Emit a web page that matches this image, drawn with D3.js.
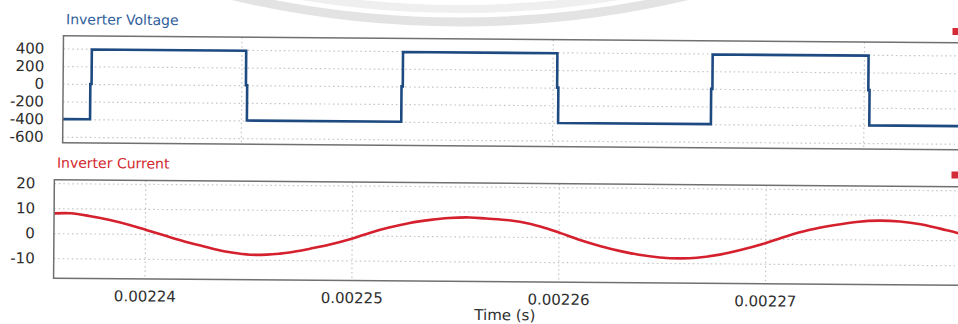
<!DOCTYPE html>
<html>
<head>
<meta charset="utf-8">
<script src="https://cdn.jsdelivr.net/npm/d3@7"></script>
<style>
  html, body { margin: 0; padding: 0; background: #ffffff; }
  svg { display: block; }
  text { font-family: "DejaVu Sans", Verdana, sans-serif; }
</style>
</head>
<body>
<svg id="chart" width="958" height="324"></svg>
<script>
// ---- data -------------------------------------------------------------
// Inverter output voltage: switching instants (s) and the level held after each
const switchTimes = [0.0022303, 0.0022403, 0.0022503, 0.0022603, 0.0022702, 0.0022803];
const voltLevels  = [-400, 390, -400, 390, -400, 390, -400];
const deadTime    = 0.00000008;              // short pause at 0 V on every edge
const voltTicks   = [400, 200, 0, -200, -400, -600];
const voltGridTimes = [0.00224, 0.00226, 0.00228];

// Inverter output current (A) against time (s)
const currTimes = [
  0.0022356, 0.0022364, 0.0022373, 0.0022383, 0.0022393, 0.0022401, 0.0022410,
  0.0022418, 0.0022427, 0.0022435, 0.0022442, 0.0022451, 0.0022459, 0.0022465,
  0.0022470, 0.0022480, 0.0022489, 0.0022500, 0.0022509, 0.0022518, 0.0022528,
  0.0022538, 0.0022547, 0.0022557, 0.0022565, 0.0022576, 0.0022586, 0.0022594,
  0.0022601, 0.0022610, 0.0022620, 0.0022630, 0.0022639, 0.0022649, 0.0022659,
  0.0022667, 0.0022678, 0.0022688, 0.0022700, 0.0022710, 0.0022721, 0.0022733,
  0.0022744, 0.0022755, 0.0022765, 0.0022775, 0.0022784, 0.0022792, 0.0022800
];
const currValues = [
   7.9,  8.0,  7.0,  5.4,  3.4,  1.5, -0.7,
  -2.6, -4.5, -6.1, -7.2, -8.0, -7.9, -7.5,
  -7.0, -5.4, -3.8, -1.3,  1.2,  3.3,  5.2,
   6.5,  7.3,  7.6,  7.2,  6.6,  5.3,  3.5,
   1.6, -1.0, -3.4, -5.4, -6.8, -7.8, -8.1,
  -7.8, -6.5, -4.6, -1.8,  1.0,  3.6,  5.6,
   7.0,  7.6,  7.3,  6.3,  4.7,  3.1,  1.5
];
const currTicks = [20, 10, 0, -10];
const timeTicks = [0.00224, 0.00225, 0.00226, 0.00227];
const timeTickLabels = ["0.00224", "0.00225", "0.00226", "0.00227"];

// ---- layout -------------------------------------------------------------
const svg = d3.select("#chart");
svg.append("rect").attr("width", 958).attr("height", 324).attr("fill", "#ffffff");

// faint printed emblem behind the top title row
svg.append("circle").attr("cx", 460).attr("cy", -966).attr("r", 988)
  .attr("fill", "none").attr("stroke", "#e3e3e3").attr("stroke-width", 9);
svg.append("circle").attr("cx", 460).attr("cy", -966).attr("r", 975)
  .attr("fill", "none").attr("stroke", "#efefef").attr("stroke-width", 8);

// the whole scope view sits at a slight angle
const g = svg.append("g").attr("transform", "rotate(0.45,479,162)");

const topBox = { left: 62.5, right: 972, top: 39.1, bottom: 146.1 };
const botBox = { left: 54.5, right: 972.7, top: 183, bottom: 281.5 };

const xTop = d3.scaleLinear().domain([0.00222855, 0.002287]).range([topBox.left, topBox.right]);
const yV   = d3.scaleLinear().domain([-669, 543]).range([topBox.bottom, topBox.top]);
const xBot = d3.scaleLinear().domain([0.0022356, 0.00228]).range([botBox.left, botBox.right]);
const yI   = d3.scaleLinear().domain([-18, 21.4]).range([botBox.bottom, botBox.top]);

const gridColor = "#c4c4c4";
const tickColor = "#2e2e2e";
const plainNumber = d => String(d);           // hyphen-minus, as the scope prints it

function styleGrid(sel) {
  sel.select(".domain").remove();
  sel.selectAll("line").attr("stroke", gridColor).attr("stroke-width", 1.2)
     .attr("stroke-dasharray", "1.5,3");
}
function styleLabels(sel) {
  sel.select(".domain").remove();
  sel.selectAll("text").attr("fill", tickColor).attr("font-size", 15)
     .attr("font-family", "DejaVu Sans, Verdana, sans-serif");
}

// clip paths for the two plot areas
const defs = svg.append("defs");
defs.append("clipPath").attr("id", "clipTop").append("rect")
  .attr("x", topBox.left).attr("y", topBox.top)
  .attr("width", topBox.right - topBox.left).attr("height", topBox.bottom - topBox.top);
defs.append("clipPath").attr("id", "clipBot").append("rect")
  .attr("x", botBox.left).attr("y", botBox.top)
  .attr("width", botBox.right - botBox.left).attr("height", botBox.bottom - botBox.top);

// ---- top panel: voltage ---------------------------------------------------
g.append("g").attr("transform", `translate(${topBox.left},0)`)
  .call(d3.axisLeft(yV).tickValues(voltTicks).tickSize(-(topBox.right - topBox.left)).tickFormat(""))
  .call(styleGrid);
g.append("g").attr("transform", `translate(0,${topBox.top})`)
  .call(d3.axisBottom(xTop).tickValues(voltGridTimes).tickSize(topBox.bottom - topBox.top).tickFormat(""))
  .call(styleGrid);
g.append("g").attr("transform", `translate(${topBox.left},0)`)
  .call(d3.axisLeft(yV).tickValues(voltTicks).tickSize(0).tickPadding(19).tickFormat(plainNumber))
  .call(styleLabels);

const vPts = [[xTop.domain()[0], voltLevels[0]]];
switchTimes.forEach((t, i) => {
  vPts.push([t, voltLevels[i]], [t, 0], [t + deadTime, 0], [t + deadTime, voltLevels[i + 1]]);
});
vPts.push([xTop.domain()[1], voltLevels[voltLevels.length - 1]]);

g.append("path").datum(vPts).attr("clip-path", "url(#clipTop)")
  .attr("fill", "none").attr("stroke", "#1d4a80").attr("stroke-width", 2.6)
  .attr("stroke-linejoin", "miter")
  .attr("d", d3.line().x(d => xTop(d[0])).y(d => yV(d[1])));

g.append("rect").attr("x", topBox.left).attr("y", topBox.top)
  .attr("width", topBox.right - topBox.left).attr("height", topBox.bottom - topBox.top)
  .attr("fill", "none").attr("stroke", "#707070").attr("stroke-width", 1.5);

g.append("text").attr("x", 65).attr("y", 27.5)
  .attr("font-size", 14).attr("fill", "#2f5e9c").text("Inverter Voltage");

// ---- bottom panel: current ------------------------------------------------
g.append("g").attr("transform", `translate(${botBox.left},0)`)
  .call(d3.axisLeft(yI).tickValues(currTicks).tickSize(-(botBox.right - botBox.left)).tickFormat(""))
  .call(styleGrid);
g.append("g").attr("transform", `translate(0,${botBox.top})`)
  .call(d3.axisBottom(xBot).tickValues(timeTicks).tickSize(botBox.bottom - botBox.top).tickFormat(""))
  .call(styleGrid);
g.append("g").attr("transform", `translate(${botBox.left},0)`)
  .call(d3.axisLeft(yI).tickValues(currTicks).tickSize(0).tickPadding(19).tickFormat(plainNumber))
  .call(styleLabels);
g.append("g").attr("transform", `translate(0,${botBox.bottom})`)
  .call(d3.axisBottom(xBot).tickValues(timeTicks).tickSize(0).tickPadding(12)
        .tickFormat((d, i) => timeTickLabels[i]))
  .call(styleLabels);

const iPts = currTimes.map((t, i) => [t, currValues[i]]);
g.append("path").datum(iPts).attr("clip-path", "url(#clipBot)")
  .attr("fill", "none").attr("stroke", "#d5202e").attr("stroke-width", 2.6)
  .attr("d", d3.line().x(d => xBot(d[0])).y(d => yI(d[1])).curve(d3.curveCatmullRom));

g.append("rect").attr("x", botBox.left).attr("y", botBox.top)
  .attr("width", botBox.right - botBox.left).attr("height", botBox.bottom - botBox.top)
  .attr("fill", "none").attr("stroke", "#707070").attr("stroke-width", 1.5);

g.append("text").attr("x", 57).attr("y", 171)
  .attr("font-size", 14).attr("fill", "#d2282e").text("Inverter Current");

g.append("text").attr("x", 506).attr("y", 320).attr("text-anchor", "middle")
  .attr("font-size", 15).attr("fill", tickColor).text("Time (s)");

// legend markers at the right edge of each panel
svg.append("rect").attr("x", 952.5).attr("y", 28).attr("width", 8).attr("height", 7).attr("fill", "#d42a38");
svg.append("rect").attr("x", 951.5).attr("y", 171.5).attr("width", 8).attr("height", 7).attr("fill", "#d42a38");
</script>
</body>
</html>
